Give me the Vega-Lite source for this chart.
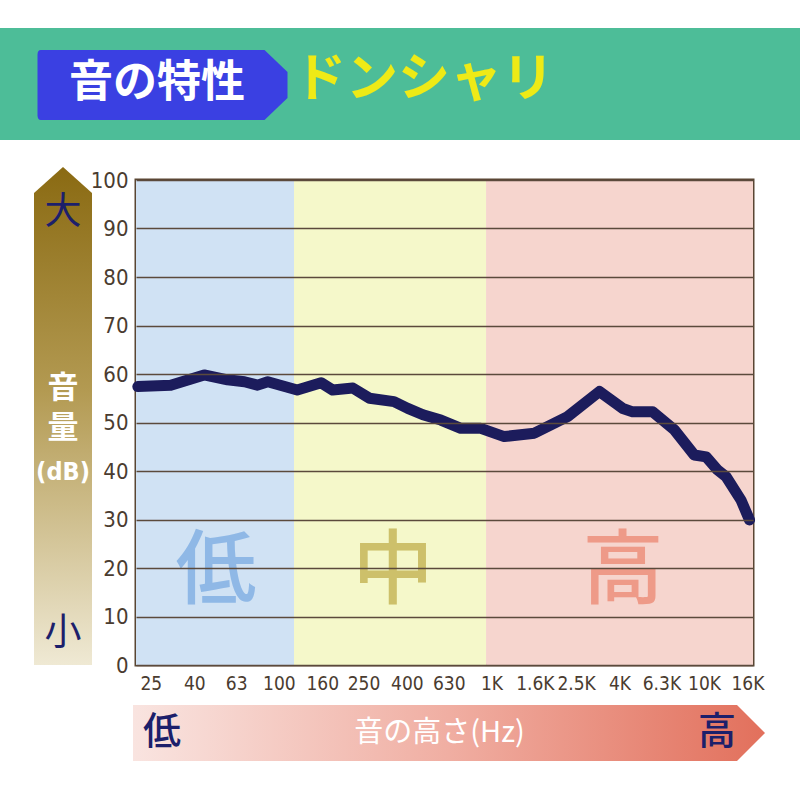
{
  "$schema": "https://vega.github.io/schema/vega-lite/v6.json",
  "background": "white",
  "padding": {"top": 28, "left": 0, "right": 0, "bottom": 0},
  "config": {"view": {"stroke": null}, "font": "Noto Sans CJK JP"},
  "spacing": 27,
  "resolve": {"scale": {"x": "independent", "y": "independent", "color": "independent"}},
  "vconcat": [
    {
      "width": 800,
      "height": 112,
      "view": {"fill": "#4dbd98", "stroke": null},
      "data": {"values": [{"title": "音の特性"}, {"title": "ドンシャリ"}]},
      "layer": [
        {
          "transform": [{"filter": "datum.title === '音の特性'"}],
          "mark": {"type": "point", "shape": "M -0.93 -0.272 L 0.86 -0.272 L 1.044 -0.096 L 1.044 0.112 L 0.86 0.288 L -0.93 0.288 Q -0.956 0.288 -0.956 0.25 L -0.956 -0.234 Q -0.956 -0.272 -0.93 -0.272 Z", "size": 62500, "filled": true, "fill": "#3a40e2", "opacity": 1, "strokeWidth": 0},
          "encoding": {"x": {"field": "title", "type": "nominal", "scale": {"type": "point", "padding": 0, "domain": ["音の特性", "ドンシャリ"], "range": [157, 424]}, "axis": null}}
        },
        {
          "transform": [{"filter": "datum.title === '音の特性'"}],
          "mark": {"type": "text", "fontSize": 44, "fontWeight": "bold", "color": "white", "baseline": "middle"},
          "encoding": {"x": {"field": "title", "type": "nominal"}, "text": {"field": "title"}}
        },
        {
          "transform": [{"filter": "datum.title === 'ドンシャリ'"}],
          "mark": {"type": "text", "fontSize": 52, "fontWeight": "bold", "color": "#eeea16", "baseline": "middle", "dy": -4},
          "encoding": {"x": {"field": "title", "type": "nominal"}, "text": {"field": "title"}}
        }
      ]
    },
    {
      "spacing": 9,
      "resolve": {"scale": {"x": "independent", "y": "independent", "color": "independent"}},
      "vconcat": [
        {
          "spacing": -4,
          "resolve": {"scale": {"x": "independent", "y": "independent", "color": "independent"}},
          "hconcat": [
            {
              "width": 92,
              "height": 485,
              "view": {"stroke": null},
              "data": {"values": [{"lbl": "大"}, {"lbl": "音"}, {"lbl": "量"}, {"lbl": "(dB)"}, {"lbl": "小"}]},
              "layer": [
                {
                  "data": {"values": [{"lbl": "arrow"}]},
                  "mark": {"type": "point", "shape": "M 0.068 -1.022 L 0.184 -0.918 L 0.184 0.97 L -0.048 0.97 L -0.048 -0.918 Z", "size": 250000, "filled": true, "opacity": 1, "strokeWidth": 0,
                    "fill": {"gradient": "linear", "x1": 0, "y1": 0, "x2": 0, "y2": 1, "stops": [{"offset": 0, "color": "#8a6a12"}, {"offset": 0.45, "color": "#b39a52"}, {"offset": 1, "color": "#efe9d4"}]}},
                  "encoding": {}
                },
                {
                  "transform": [{"filter": "datum.lbl === '大'"}],
                  "mark": {"type": "text", "fontSize": 37, "color": "#1c1f6b", "baseline": "middle", "dx": 17},
                  "encoding": {
                    "y": {"datum": 93.2, "type": "quantitative", "scale": {"domain": [0, 100], "nice": false}, "axis": null},
                    "text": {"field": "lbl"}
                  }
                },
                {
                  "transform": [{"filter": "datum.lbl === '小'"}],
                  "mark": {"type": "text", "fontSize": 37, "color": "#1c1f6b", "baseline": "middle", "dx": 17},
                  "encoding": {"y": {"datum": 6.4, "type": "quantitative"}, "text": {"field": "lbl"}}
                },
                {
                  "transform": [{"filter": "datum.lbl === '音'"}],
                  "mark": {"type": "text", "fontSize": 31, "fontWeight": "bold", "color": "white", "baseline": "middle", "dx": 17},
                  "encoding": {"y": {"datum": 57.0, "type": "quantitative"}, "text": {"field": "lbl"}}
                },
                {
                  "transform": [{"filter": "datum.lbl === '量'"}],
                  "mark": {"type": "text", "fontSize": 31, "fontWeight": "bold", "color": "white", "baseline": "middle", "dx": 17},
                  "encoding": {"y": {"datum": 48.6, "type": "quantitative"}, "text": {"field": "lbl"}}
                },
                {
                  "transform": [{"filter": "datum.lbl === '(dB)'"}],
                  "mark": {"type": "text", "fontSize": 25, "fontWeight": "bold", "font": "Liberation Sans Narrow, DejaVu Sans Condensed, sans-serif", "color": "white", "baseline": "middle", "dx": 17},
                  "encoding": {"y": {"datum": 39.8, "type": "quantitative"}, "text": {"field": "lbl"}}
                }
              ]
            },
            {
              "width": 617,
              "height": 485,
              "view": {"stroke": "#5a4633", "strokeWidth": 3},
              "resolve": {"scale": {"color": "independent"}},
              "layer": [
                {
                  "data": {"values": [
                    {"zone": "低", "from": 21.28, "to": 117.8, "mid": 50.6},
                    {"zone": "中", "from": 117.8, "to": 943, "mid": 344},
                    {"zone": "高", "from": 943, "to": 16990, "mid": 4160}
                  ]},
                  "mark": {"type": "rect"},
                  "encoding": {
                    "x": {"field": "from", "type": "quantitative", "scale": {"type": "log", "domain": [21.28, 16990], "nice": false},
                      "axis": {"title": null, "values": [25, 40, 63, 100, 160, 250, 400, 630, 1000, 1600, 2500, 4000, 6300, 10000, 16000],
                        "labelExpr": "datum.value >= 1000 ? (datum.value / 1000) + 'K' : '' + datum.value",
                        "ticks": false, "domain": false, "grid": false, "labelPadding": 9, "labelFontSize": 19,
                        "labelFont": "Liberation Sans Narrow, DejaVu Sans Condensed, sans-serif", "labelColor": "#4a3c30", "labelOverlap": false, "labelFlush": false}},
                    "x2": {"field": "to"},
                    "color": {"field": "zone", "type": "nominal", "scale": {"domain": ["低", "中", "高"], "range": ["#d0e2f4", "#f5f8ca", "#f6d5ce"]}, "legend": null}
                  }
                },
                {
                  "data": {"values": [
                    {"zone": "低", "from": 21.28, "to": 117.8, "mid": 50.6},
                    {"zone": "中", "from": 117.8, "to": 943, "mid": 344},
                    {"zone": "高", "from": 943, "to": 16990, "mid": 4160}
                  ]},
                  "mark": {"type": "text", "fontSize": 81, "fontWeight": 500, "baseline": "middle"},
                  "encoding": {
                    "x": {"field": "mid", "type": "quantitative"},
                    "y": {"datum": 18.9, "type": "quantitative"},
                    "text": {"field": "zone"},
                    "color": {"field": "zone", "type": "nominal", "scale": {"domain": ["低", "中", "高"], "range": ["#8fb8e6", "#cdc06a", "#ee9a88"]}, "legend": null}
                  }
                },
                {
                  "data": {"values": [
                    {"hz": 21.7, "db": 57.4}, {"hz": 31, "db": 57.7}, {"hz": 44.5, "db": 59.8}, {"hz": 57.3, "db": 58.8},
                    {"hz": 68.9, "db": 58.4}, {"hz": 79.4, "db": 57.7}, {"hz": 88.7, "db": 58.4}, {"hz": 122, "db": 56.7},
                    {"hz": 158, "db": 58.2}, {"hz": 179, "db": 56.7}, {"hz": 223, "db": 57.1}, {"hz": 267, "db": 55.0},
                    {"hz": 348, "db": 54.3}, {"hz": 404, "db": 52.9}, {"hz": 476, "db": 51.6}, {"hz": 578, "db": 50.5},
                    {"hz": 718, "db": 48.8}, {"hz": 891, "db": 48.8}, {"hz": 1148, "db": 47.1}, {"hz": 1592, "db": 47.8},
                    {"hz": 2280, "db": 51.2}, {"hz": 3220, "db": 56.4}, {"hz": 4150, "db": 52.9}, {"hz": 4613, "db": 52.2},
                    {"hz": 5727, "db": 52.2}, {"hz": 7244, "db": 48.5}, {"hz": 8993, "db": 43.3}, {"hz": 10233, "db": 42.9},
                    {"hz": 11586, "db": 40.2}, {"hz": 12705, "db": 38.8}, {"hz": 14925, "db": 34.0}, {"hz": 16365, "db": 29.9}
                  ]},
                  "mark": {"type": "line", "color": "#1c1c5c", "strokeWidth": 11, "strokeJoin": "round", "strokeCap": "round"},
                  "encoding": {
                    "x": {"field": "hz", "type": "quantitative"},
                    "y": {"field": "db", "type": "quantitative", "scale": {"domain": [0, 100], "nice": false},
                      "axis": {"title": null, "values": [0, 10, 20, 30, 40, 50, 60, 70, 80, 90, 100], "grid": true, "gridColor": "#5b4a3c", "gridWidth": 1.5, "gridOpacity": 1,
                        "ticks": false, "domain": false, "labelPadding": 8, "labelFontSize": 22, "labelFont": "Liberation Sans Narrow, DejaVu Sans Condensed, sans-serif",
                        "labelColor": "#4a3c30", "zindex": 1, "labelFlush": false}}
                  }
                }
              ]
            }
          ]
        },
        {
          "width": 800,
          "height": 56,
          "view": {"stroke": null},
          "layer": [
            {
              "data": {"values": [{"end": "arrow"}]},
              "mark": {"type": "point", "shape": "M -1.335 -0.14 L 1.685 -0.14 L 1.825 0 L 1.685 0.14 L -1.335 0.14 Z", "size": 160000, "filled": true, "opacity": 1, "strokeWidth": 0,
                "fill": {"gradient": "linear", "x1": 0, "y1": 0, "x2": 1, "y2": 0, "stops": [{"offset": 0, "color": "#f9e4e0"}, {"offset": 0.5, "color": "#f0aea2"}, {"offset": 1, "color": "#e2705c"}]}},
              "encoding": {}
            },
            {
              "data": {"values": [{"end": "低"}, {"end": "音の高さ(Hz)"}, {"end": "高"}]},
              "transform": [{"filter": "datum.end !== '音の高さ(Hz)'"}],
              "mark": {"type": "text", "fontSize": 38, "fontWeight": 500, "color": "#1c1f6b", "baseline": "middle"},
              "encoding": {
                "x": {"field": "end", "type": "nominal", "scale": {"type": "point", "padding": 0, "domain": ["低", "音の高さ(Hz)", "高"], "range": [162, 717]}, "axis": null},
                "text": {"field": "end"}
              }
            },
            {
              "data": {"values": [{"end": "低"}, {"end": "音の高さ(Hz)"}, {"end": "高"}]},
              "transform": [{"filter": "datum.end === '音の高さ(Hz)'"}],
              "mark": {"type": "text", "fontSize": 29, "color": "white", "baseline": "middle"},
              "encoding": {"x": {"field": "end", "type": "nominal"}, "text": {"field": "end"}}
            }
          ]
        }
      ]
    }
  ]
}
